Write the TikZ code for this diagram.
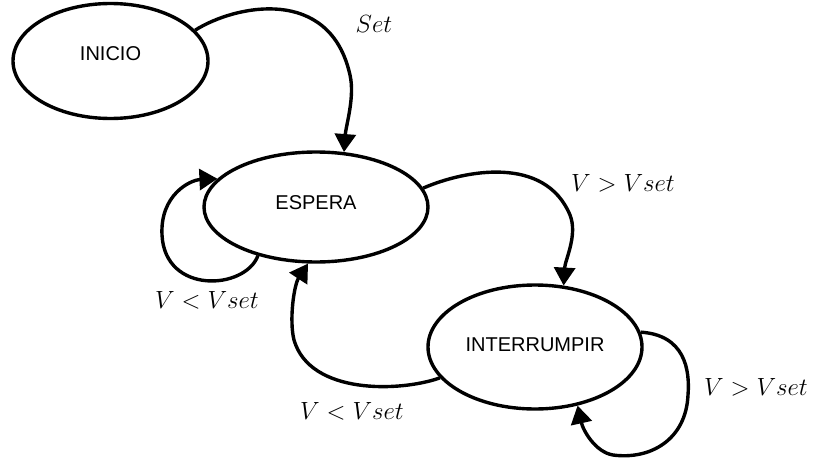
\documentclass[tikz,border=0pt]{standalone}
\usepackage{fontspec}
\newfontfamily\nodefont{Liberation Sans}
\usetikzlibrary{shapes.geometric,arrows.meta}
\begin{document}
\begin{tikzpicture}[x=1pt,y=-1pt,
  state/.style={ellipse,draw,line width=3.4pt,inner sep=0pt,
    font={\nodefont\fontsize{20}{22}\selectfont},text height=14.3pt},
  conn/.style={line width=3.4pt,-{Triangle[length=18pt,width=21pt]}},
  lab/.style={font={\fontsize{24}{26}\selectfont}}]
\useasboundingbox (0,0) rectangle (816,460);
\node[state,minimum width=195pt,minimum height=115pt,text depth=16pt] (inicio) at (110.5,61) {INICIO};
\node[state,minimum width=224pt,minimum height=110pt,text depth=10pt] (espera) at (316,207) {ESPERA};
\node[state,minimum width=214pt,minimum height=124pt,text depth=5pt] (interr) at (535,347) {INTERRUMPIR};
\draw[conn] (inicio.20) .. controls (235,5) and (330,-15) .. (350,75) .. controls (355,97) and (346,125) .. (espera.63);
\draw[conn] (espera.10) .. controls (465,170) and (545,155) .. (570,215) .. controls (578,235) and (565,260) .. (interr.65);
\draw[conn] (interr.198) .. controls (400,392) and (310,395) .. (294,340) .. controls (289,320) and (294,285) .. (espera.262);
\draw[conn] (espera.220) .. controls (245,290) and (165,295) .. (162,235) .. controls (160,195) and (190,180) .. (espera.164);
\draw[conn] (interr.8) .. controls (685,335) and (690,370) .. (688,395) .. controls (686,440) and (650,460) .. (613,455) .. controls (595,452) and (583,430) .. (interr.306);
\node[lab] (lset) at (374,24) {$Set$};
\node[lab] (l1) at (623,183) {$V > Vset$};
\node[lab] (l2) at (207,300) {$V < Vset$};
\node[lab] (l3) at (352,411) {$V < Vset$};
\node[lab] (l4) at (756,387) {$V > Vset$};
\end{tikzpicture}
\end{document}
